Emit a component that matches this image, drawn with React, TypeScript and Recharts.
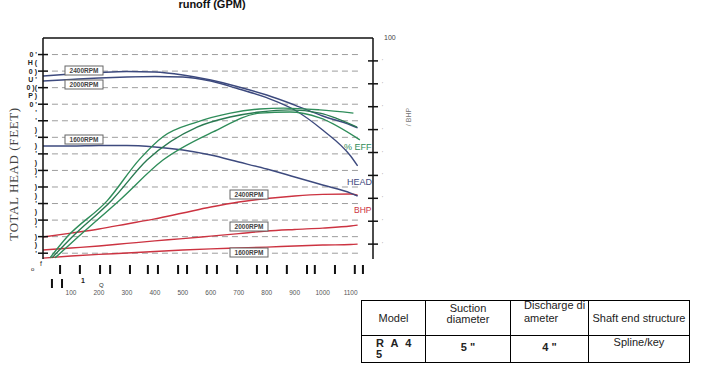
import { ComposedChart, Line, XAxis, YAxis, ReferenceLine } from 'recharts';

// flow grid (GPM) shared by head + BHP curves
const flow = [0, 100, 200, 300, 400, 500, 600, 700, 800, 900, 1000, 1100, 1125];

// total head (ft), left axis
const head2400 = [214.1, 216.5, 218.3, 219.5, 218.9, 215.3, 209.2, 200.8, 191.1, 179.0, 165.8, 154.9, 151.3];
const head2000 = [208.0, 209.9, 211.7, 212.9, 213.5, 212.9, 208.0, 198.4, 187.9, 173.0, 148.8, 117.4, 105.4];
const head1600 = [129.5, 129.5, 130.1, 130.1, 128.3, 124.7, 118.6, 110.2, 101.7, 92.1, 82.4, 72.7, 69.1];

// BHP, right axis
const bhp2400 = [13.1, 14.8, 16.6, 18.8, 21.0, 23.6, 26.2, 28.4, 29.9, 31.0, 31.7, 31.9, 31.4];
const bhp2000 = [7.4, 8.3, 9.2, 10.3, 11.4, 12.4, 13.5, 14.6, 15.7, 16.4, 17.0, 17.9, 18.3];
const bhp1600 = [3.9, 4.8, 5.5, 6.1, 6.8, 7.4, 7.9, 8.3, 8.7, 9.2, 9.6, 9.8, 10.0];

// % efficiency, right axis (each curve read at its own flows)
const eff1Flow = [25, 85, 230, 345, 430, 550, 670, 775, 860, 990, 1110];
const eff1 = [4, 13, 29, 47, 57, 63.3, 67.2, 69, 69.4, 68.6, 67.2];
const eff2Flow = [32, 104, 247, 372, 551, 669, 776, 883, 990, 1123];
const eff2 = [4, 13.1, 29.3, 46.7, 61.1, 65.5, 67.7, 68.6, 67.2, 61.1];
const eff3Flow = [43, 125, 275, 429, 608, 776, 883, 990, 1133];
const eff3 = [4, 13.1, 29.3, 46.7, 59, 67.2, 67.7, 65.1, 55.5];

// axis ticks
const flowLabels = [100, 200, 300, 400, 500, 600, 700, 800, 900, 1000, 1100];
const barMarksTop = [61, 132, 204, 240, 311, 375, 411, 483, 515, 586, 622, 694, 765, 801, 872, 944, 972, 1044, 1115, 1144];
const barMarksLow = [32, 68];
const headTicks = [0, 10, 20, 30, 40, 50, 60, 70, 80, 90, 100, 110, 120, 130, 140, 150, 160, 170, 180, 190, 200, 210, 220, 230, 240];
const headTickText = ["'", ')', ')', "'", ')', ')', "'", ')', ')', "'", ')', ')', "'", ')', "'", ')', "'", "'", "0 '", 'P )', '0 )(', "U '", '0 )', 'H (', "0 '"];
const gridValues = [0, 20, 40, 60, 80, 100, 120, 140, 160, 180, 200, 220, 240];
const pctTicks = [10, 20, 30, 40, 50, 60, 70, 80, 90, 100];

const NAVY = '#3d4a7e';
const GREEN = '#2f8d5a';
const RED = '#cc3341';

const toPts = (xs: number[], ys: number[]) => xs.map((gpm, i) => ({ gpm, v: ys[i] }));

const xTicks = [...flowLabels, ...barMarksTop, ...barMarksLow].sort((a, b) => a - b);

function FlowTick(p: any) {
  const { x, y, payload } = p;
  const v = payload.value;
  if (flowLabels.includes(v)) {
    return <text x={x} y={y + 36} textAnchor="middle" fontSize={6.5} fill="#555">{v}</text>;
  }
  if (barMarksTop.includes(v)) return <rect x={x - 1} y={y + 6} width={2} height={9} fill="#111" />;
  return <rect x={x - 1} y={y + 20} width={2} height={9} fill="#111" />;
}

function HeadTick(p: any) {
  const { x, y, payload } = p;
  const v = payload.value;
  const i = headTicks.indexOf(v);
  return (
    <g>
      {v % 20 === 0 && <line x1={x - 5} x2={x + 5} y1={y} y2={y} stroke="#111" strokeWidth={1.5} />}
      <text x={x - 6} y={y + 2.5} textAnchor="end" fontSize={7} fontWeight="bold" fill="#222">{headTickText[i]}</text>
    </g>
  );
}

function PctTick(p: any) {
  const { x, y, payload } = p;
  const v = payload.value;
  if (v === 100) {
    return <text x={x + 11} y={y + 2} fontSize={7} fill="#444">100</text>;
  }
  return (
    <g>
      <line x1={x - 5} x2={x + 5} y1={y} y2={y} stroke="#111" strokeWidth={1.5} />
      <text x={x + 9} y={y + 2} fontSize={5} fill="#888">'</text>
    </g>
  );
}

const rpmBoxes = [
  { t: '2400RPM', x: 65, y: 66 },
  { t: '2000RPM', x: 65, y: 80 },
  { t: '1600RPM', x: 65, y: 135 },
  { t: '2400RPM', x: 230, y: 190 },
  { t: '2000RPM', x: 230, y: 222 },
  { t: '1600RPM', x: 230, y: 248 },
];

const cell: React.CSSProperties = { border: '1px solid #000', padding: 0, fontSize: 11, color: '#222' };

export default function App() {
  return (
    <div style={{ position: 'absolute', left: 0, top: 0, width: 707, height: 369, background: '#fff', overflow: 'hidden', fontFamily: '"Liberation Sans", Arial, sans-serif' }}>
      <ComposedChart width={420} height={300} margin={{ top: 38, right: 17, left: 0, bottom: 0 }}>
        <XAxis xAxisId="q" dataKey="gpm" type="number" domain={[0, 1180]} allowDataOverflow ticks={xTicks} interval={0}
          tickLine={false} axisLine={false} tickSize={0} tickMargin={0} height={41} tick={(p: any) => <FlowTick {...p} />} />
        <YAxis yAxisId="head" orientation="left" width={43} type="number" domain={[-7, 260]} allowDataOverflow ticks={headTicks} interval={0}
          axisLine={{ stroke: '#111', strokeWidth: 1.5 }} tickLine={false} tickSize={0} tickMargin={0} tick={(p: any) => <HeadTick {...p} />} />
        <YAxis yAxisId="pct" orientation="right" width={30} type="number" domain={[3.5, 100]} allowDataOverflow ticks={pctTicks} interval={0}
          axisLine={{ stroke: '#111', strokeWidth: 1.5 }} tickLine={false} tickSize={0} tickMargin={0} tick={(p: any) => <PctTick {...p} />} />
        {gridValues.map((v) => (
          <ReferenceLine key={v} xAxisId="q" yAxisId="head" segment={[{ x: 32, y: v }, { x: 1133, y: v }]} stroke="#9d9d9d" strokeDasharray="6 4" />
        ))}
        <ReferenceLine xAxisId="q" yAxisId="head" y={260} stroke="#111" strokeWidth={1.5} />

        <Line xAxisId="q" yAxisId="pct" data={toPts(flow, bhp2400)} dataKey="v" type="monotone" stroke={RED} strokeWidth={1.4} dot={false} isAnimationActive={false} />
        <Line xAxisId="q" yAxisId="pct" data={toPts(flow, bhp2000)} dataKey="v" type="monotone" stroke={RED} strokeWidth={1.4} dot={false} isAnimationActive={false} />
        <Line xAxisId="q" yAxisId="pct" data={toPts(flow, bhp1600)} dataKey="v" type="monotone" stroke={RED} strokeWidth={1.4} dot={false} isAnimationActive={false} />

        <Line xAxisId="q" yAxisId="head" data={toPts(flow, head2400)} dataKey="v" type="monotone" stroke={NAVY} strokeWidth={1.4} dot={false} isAnimationActive={false} />
        <Line xAxisId="q" yAxisId="head" data={toPts(flow, head2000)} dataKey="v" type="monotone" stroke={NAVY} strokeWidth={1.4} dot={false} isAnimationActive={false} />
        <Line xAxisId="q" yAxisId="head" data={toPts(flow, head1600)} dataKey="v" type="monotone" stroke={NAVY} strokeWidth={1.4} dot={false} isAnimationActive={false} />

        <Line xAxisId="q" yAxisId="pct" data={toPts(eff1Flow, eff1)} dataKey="v" type="monotone" stroke={GREEN} strokeWidth={1.4} dot={false} isAnimationActive={false} />
        <Line xAxisId="q" yAxisId="pct" data={toPts(eff2Flow, eff2)} dataKey="v" type="monotone" stroke="#2a7a52" strokeWidth={1.4} dot={false} isAnimationActive={false} />
        <Line xAxisId="q" yAxisId="pct" data={toPts(eff3Flow, eff3)} dataKey="v" type="monotone" stroke={GREEN} strokeWidth={1.4} dot={false} isAnimationActive={false} />
      </ComposedChart>

      <svg width={707} height={369} style={{ position: 'absolute', left: 0, top: 0, pointerEvents: 'none' }} fontFamily='"Liberation Sans", Arial, sans-serif'>
        <text x={212} y={8} textAnchor="middle" fontSize={11} fontWeight="bold" fill="#111">runoff (GPM)</text>
        <text transform="translate(18,174) rotate(-90)" textAnchor="middle" fontSize={13} letterSpacing={0.6} fontFamily='"Liberation Serif", serif' fill="#444">TOTAL HEAD (FEET)</text>
        <text transform="translate(411,117) rotate(-90)" textAnchor="middle" fontSize={7} fill="#777">/ BHP</text>
        {rpmBoxes.map((b, i) => (
          <g key={i}>
            <rect x={b.x} y={b.y} width={38} height={9} fill="#fff" stroke="#666" strokeWidth={1} />
            <text x={b.x + 19} y={b.y + 7} textAnchor="middle" fontSize={6.5} fontWeight="bold" fill="#444">{b.t}</text>
          </g>
        ))}
        <text x={344} y={150} fontSize={9} fill={GREEN}>% EFF</text>
        <text x={347} y={185} fontSize={9} fill={NAVY}>HEAD</text>
        <text x={354} y={213} fontSize={8.5} fill={RED}>BHP</text>
        <text x={40} y={266} fontSize={7} fill="#222">f</text>
        <text x={31} y={271} fontSize={6} fill="#222">o</text>
        <text x={81} y={283} fontSize={7} fontWeight="bold" fill="#222">1</text>
        <text x={99} y={287} fontSize={6} fill="#222">Q</text>
      </svg>

      <table style={{ position: 'absolute', left: 361, top: 300, width: 329, borderCollapse: 'collapse', tableLayout: 'fixed' }}>
        <colgroup>
          <col style={{ width: 64 }} />
          <col style={{ width: 85 }} />
          <col style={{ width: 78 }} />
          <col style={{ width: 101 }} />
        </colgroup>
        <tbody>
          <tr style={{ height: 35 }}>
            <td style={{ ...cell, textAlign: 'center' }}>Model</td>
            <td style={{ ...cell, textAlign: 'center', verticalAlign: 'top', lineHeight: '11px' }}>
              <div style={{ marginTop: 2 }}>Suction<br />diameter</div>
            </td>
            <td style={{ ...cell, verticalAlign: 'top', lineHeight: '13px', whiteSpace: 'nowrap' }}>
              <div style={{ marginTop: -2, paddingLeft: 13 }}>Discharge di<br />ameter</div>
            </td>
            <td style={{ ...cell, textAlign: 'center', whiteSpace: 'nowrap' }}>Shaft end structure</td>
          </tr>
          <tr style={{ height: 27 }}>
            <td style={{ ...cell, fontWeight: 'bold', paddingLeft: 14, lineHeight: '11px', wordSpacing: 4 }}>R A 4<br />5</td>
            <td style={{ ...cell, fontWeight: 'bold', textAlign: 'center' }}><div style={{ marginTop: -5 }}>5 "</div></td>
            <td style={{ ...cell, fontWeight: 'bold', textAlign: 'center' }}><div style={{ marginTop: -5 }}>4 "</div></td>
            <td style={{ ...cell, textAlign: 'center', verticalAlign: 'top' }}>Spline/key</td>
          </tr>
        </tbody>
      </table>
    </div>
  );
}
